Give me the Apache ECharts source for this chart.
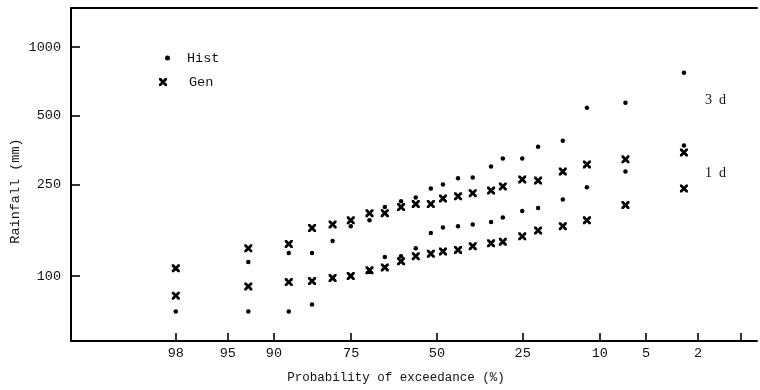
<!DOCTYPE html>
<html>
<head>
<meta charset="utf-8">
<script src="https://cdn.jsdelivr.net/npm/echarts@6/dist/echarts.min.js"></script>
<style>
  html, body { margin: 0; padding: 0; background: #fff; }
  #chart { width: 760px; height: 390px; }
</style>
</head>
<body>
<div id="chart"></div>
<script>
// exceedance probability (%) of each plotted rank
const exceedance = [98, 93.1, 87.8, 83.7, 79.4, 75.1, 70.2, 65.9, 61.1, 56.6, 51.9,
  48.1, 43.4, 38.9, 33.5, 30.2, 25.1, 21.3, 16.1, 11.9, 6.9, 2.6];

// rainfall (mm)
const hist3d = [108, 115, 126, 126, 142, 165, 175, 200, 212, 220, 241,
  251, 267, 269, 301, 326, 326, 367, 390, 543, 571, 771];
const gen3d = [108, 132, 138, 162, 168, 175, 188, 188, 200, 206, 206,
  218, 223, 230, 236, 246, 264, 261, 286, 307, 323, 346];
const hist1d = [70, 70, 70, 75, 98, 100, 104, 121, 122, 132, 154,
  163, 165, 168, 172, 180, 192, 198, 216, 244, 286, 371];
const gen1d = [82, 90, 94, 95, 98, 100, 106, 109, 116, 122, 125,
  128, 130, 135, 139, 141, 149, 158, 165, 175, 204, 241];

// axis ticks
const probTicks = [98, 95, 90, 75, 50, 25, 10, 5, 2, 0.85];
const probLabels = ["98", "95", "90", "75", "50", "25", "10", "5", "2", ""];
const rainTicks = [100, 250, 500, 1000];

// inverse of the standard normal cdf (Acklam)
function normInv(p) {
  const a = [-3.969683028665376e+01, 2.209460984245205e+02, -2.759285104469687e+02, 1.383577518672690e+02, -3.066479806614716e+01, 2.506628277459239e+00];
  const b = [-5.447609879822406e+01, 1.615858368580409e+02, -1.556989798598866e+02, 6.680131188771972e+01, -1.328068155288572e+01];
  const c = [-7.784894002430293e-03, -3.223964580411365e-01, -2.400758277161838e+00, -2.549732539343734e+00, 4.374664141464968e+00, 2.938163982698783e+00];
  const d = [7.784695709041462e-03, 3.224671290700398e-01, 2.445134137142996e+00, 3.754408661907416e+00];
  const pl = 0.02425;
  let q, r;
  if (p < pl) {
    q = Math.sqrt(-2 * Math.log(p));
    return (((((c[0] * q + c[1]) * q + c[2]) * q + c[3]) * q + c[4]) * q + c[5]) / ((((d[0] * q + d[1]) * q + d[2]) * q + d[3]) * q + 1);
  }
  if (p <= 1 - pl) {
    q = p - 0.5; r = q * q;
    return (((((a[0] * r + a[1]) * r + a[2]) * r + a[3]) * r + a[4]) * r + a[5]) * q / (((((b[0] * r + b[1]) * r + b[2]) * r + b[3]) * r + b[4]) * r + 1);
  }
  q = Math.sqrt(-2 * Math.log(1 - p));
  return -(((((c[0] * q + c[1]) * q + c[2]) * q + c[3]) * q + c[4]) * q + c[5]) / ((((d[0] * q + d[1]) * q + d[2]) * q + d[3]) * q + 1);
}

// probability paper: exceedance % -> normal variate
function probToZ(p) {
  return normInv(1 - p / 100);
}

function puntos(valores) {
  return valores.map((v, i) => [probToZ(exceedance[i]), v]);
}

const tickZ = probTicks.map(probToZ);
const mono = "Liberation Mono";
const cruz = "path://M0,0 L2.6,0 L5,2.6 L7.4,0 L10,0 L10,2.6 L7.4,5 L10,7.4 L10,10 L7.4,10 L5,7.4 L2.6,10 L0,10 L0,7.4 L2.6,5 L0,2.6 Z";
const negro = { color: "#000", opacity: 1 };

const dom = document.getElementById("chart");
const myChart = echarts.init(dom, null, { renderer: "canvas" });

const option = {
  animation: false,
  backgroundColor: "#fff",
  grid: { left: 71, right: 3, top: 8, bottom: 49 },
  legend: [
    {
      data: ["Hist"],
      left: 160, top: 46,
      itemWidth: 5, itemHeight: 5,
      textStyle: { fontFamily: mono, fontSize: 13.5, color: "#111", padding: [0, 0, 0, 12] }
    },
    {
      data: ["Gen"],
      left: 154, top: 70,
      itemWidth: 8, itemHeight: 8,
      textStyle: { fontFamily: mono, fontSize: 13.5, color: "#111", padding: [0, 0, 0, 17] }
    }
  ],
  xAxis: [
    {
      type: "value",
      min: probToZ(99.8),
      max: probToZ(0.59),
      splitLine: { show: false },
      axisLine: { onZero: false, lineStyle: { color: "#000", width: 2 } },
      axisTick: { inside: true, length: 8, customValues: tickZ, lineStyle: { color: "#000", width: 1.6 } },
      axisLabel: {
        customValues: tickZ,
        margin: 5,
        fontFamily: mono, fontSize: 13.5, color: "#111",
        formatter: function (val) {
          const i = tickZ.findIndex((z) => Math.abs(z - val) < 1e-6);
          return i >= 0 ? probLabels[i] : "";
        }
      }
    },
    {
      type: "value",
      position: "top",
      min: probToZ(99.8),
      max: probToZ(0.59),
      splitLine: { show: false },
      axisLine: { onZero: false, lineStyle: { color: "#000", width: 2 } },
      axisTick: { show: false },
      axisLabel: { show: false }
    }
  ],
  yAxis: {
    type: "log",
    logBase: 10,
    min: 52,
    max: 1480,
    splitLine: { show: false },
    axisLine: { onZero: false, lineStyle: { color: "#000", width: 2 } },
    axisTick: { inside: true, length: 9, customValues: rainTicks, lineStyle: { color: "#000", width: 1.6 } },
    axisLabel: {
      customValues: rainTicks, margin: 10,
      fontFamily: mono, fontSize: 13.5, color: "#111",
      formatter: function (val) { return String(Math.round(val)); }
    }
  },
  graphic: [
    {
      type: "text", x: 15, y: 191, rotation: Math.PI / 2,
      style: { text: "Rainfall (mm)", fontFamily: mono, fontSize: 13.5, fill: "#111", align: "center", verticalAlign: "middle" }
    },
    {
      type: "text", x: 396, y: 378,
      style: { text: "Probability of exceedance (%)", fontFamily: mono, fontSize: 12.5, fill: "#111", align: "center", verticalAlign: "middle" }
    },
    {
      type: "text", x: 705, y: 100,
      style: { text: "3  d", fontFamily: "Liberation Serif", fontSize: 14, fill: "#111", verticalAlign: "middle" }
    },
    {
      type: "text", x: 705, y: 173,
      style: { text: "1  d", fontFamily: "Liberation Serif", fontSize: 14, fill: "#111", verticalAlign: "middle" }
    }
  ],
  series: [
    { name: "Gen", type: "scatter", symbol: cruz, symbolSize: 8, itemStyle: negro, data: puntos(gen3d) },
    { name: "Gen", type: "scatter", symbol: cruz, symbolSize: 8, itemStyle: negro, data: puntos(gen1d) },
    { name: "Hist", type: "scatter", symbol: "circle", symbolSize: 4.5, itemStyle: negro, data: puntos(hist3d) },
    { name: "Hist", type: "scatter", symbol: "circle", symbolSize: 4.5, itemStyle: negro, data: puntos(hist1d) }
  ]
};

myChart.setOption(option);
window.addEventListener("resize", myChart.resize);
</script>
</body>
</html>
